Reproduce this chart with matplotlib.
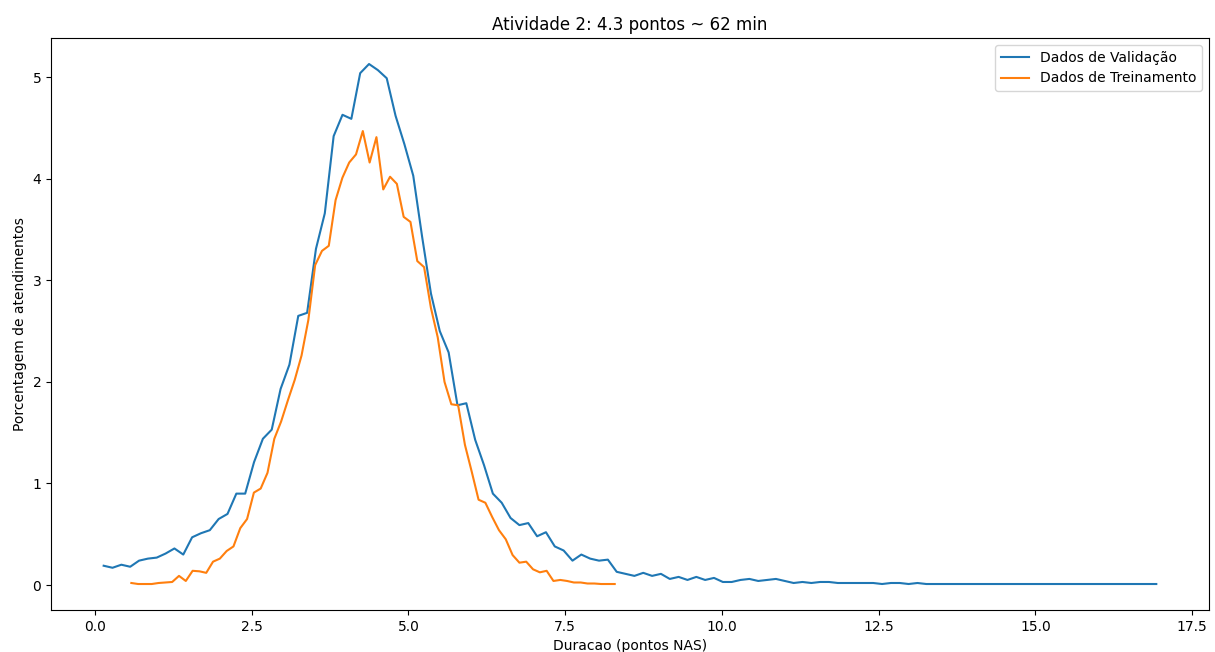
import numpy as np
import matplotlib
matplotlib.use("Agg")
import matplotlib.pyplot as plt

# Validation data (bin centers: start + step * index)
val_x0 = 0.1385
val_step = 0.1411
val_y = [0.19, 0.17, 0.20, 0.18, 0.24, 0.26, 0.27, 0.31, 0.36, 0.30,
         0.47, 0.51, 0.54, 0.65, 0.70, 0.90, 0.90, 1.21, 1.44, 1.53,
         1.93, 2.17, 2.65, 2.68, 3.31, 3.66, 4.42, 4.63, 4.59, 5.04,
         5.13, 5.07, 4.99, 4.62, 4.34, 4.03, 3.43, 2.87, 2.50, 2.29,
         1.77, 1.79, 1.43, 1.18, 0.90, 0.81, 0.66, 0.59, 0.61, 0.48,
         0.52, 0.38, 0.34, 0.24, 0.30, 0.26, 0.24, 0.25, 0.13, 0.11,
         0.09, 0.12, 0.09, 0.11, 0.06, 0.08, 0.05, 0.08, 0.05, 0.07,
         0.03, 0.03, 0.05, 0.06, 0.04, 0.05, 0.06, 0.04, 0.02, 0.03,
         0.02, 0.03, 0.03, 0.02, 0.02, 0.02, 0.02, 0.02, 0.01, 0.02,
         0.02, 0.01, 0.02] + [0.01] * 27

# Training data
tr_x0 = 0.580
tr_step = 0.1086
tr_y = [0.02, 0.01, 0.01, 0.01, 0.02, 0.025, 0.03, 0.09, 0.04, 0.14,
        0.135, 0.12, 0.23, 0.26, 0.335, 0.38, 0.56, 0.65, 0.91, 0.95,
        1.105, 1.44, 1.61, 1.82, 2.02, 2.26, 2.61, 3.15, 3.29, 3.34,
        3.79, 4.01, 4.16, 4.24, 4.47, 4.16, 4.41, 3.895, 4.02, 3.95,
        3.625, 3.575, 3.19, 3.13, 2.73, 2.44, 2.00, 1.78, 1.77, 1.38,
        1.115, 0.84, 0.81, 0.67, 0.54, 0.45, 0.295, 0.22, 0.23, 0.155,
        0.125, 0.14, 0.04, 0.05, 0.04, 0.025, 0.025, 0.015, 0.015, 0.01,
        0.01, 0.01]

title = "Atividade 2: 4.3 pontos ~ 62 min"
xlabel = "Duracao (pontos NAS)"
ylabel = "Porcentagem de atendimentos"
labels = ["Dados de Validação", "Dados de Treinamento"]

val_x = val_x0 + val_step * np.arange(len(val_y))
tr_x = tr_x0 + tr_step * np.arange(len(tr_y))

fig = plt.figure(figsize=(12.15, 6.52), dpi=100)
ax = fig.add_axes([0.042, 0.0644, 0.953, 0.8773])
ax.plot(val_x, val_y, color="#1f77b4", label=labels[0])
ax.plot(tr_x, tr_y, color="#ff7f0e", label=labels[1])
ax.set_title(title)
ax.set_xlabel(xlabel)
ax.set_ylabel(ylabel)
ax.legend(loc="upper right")
fig.savefig("out.png", dpi=100)
